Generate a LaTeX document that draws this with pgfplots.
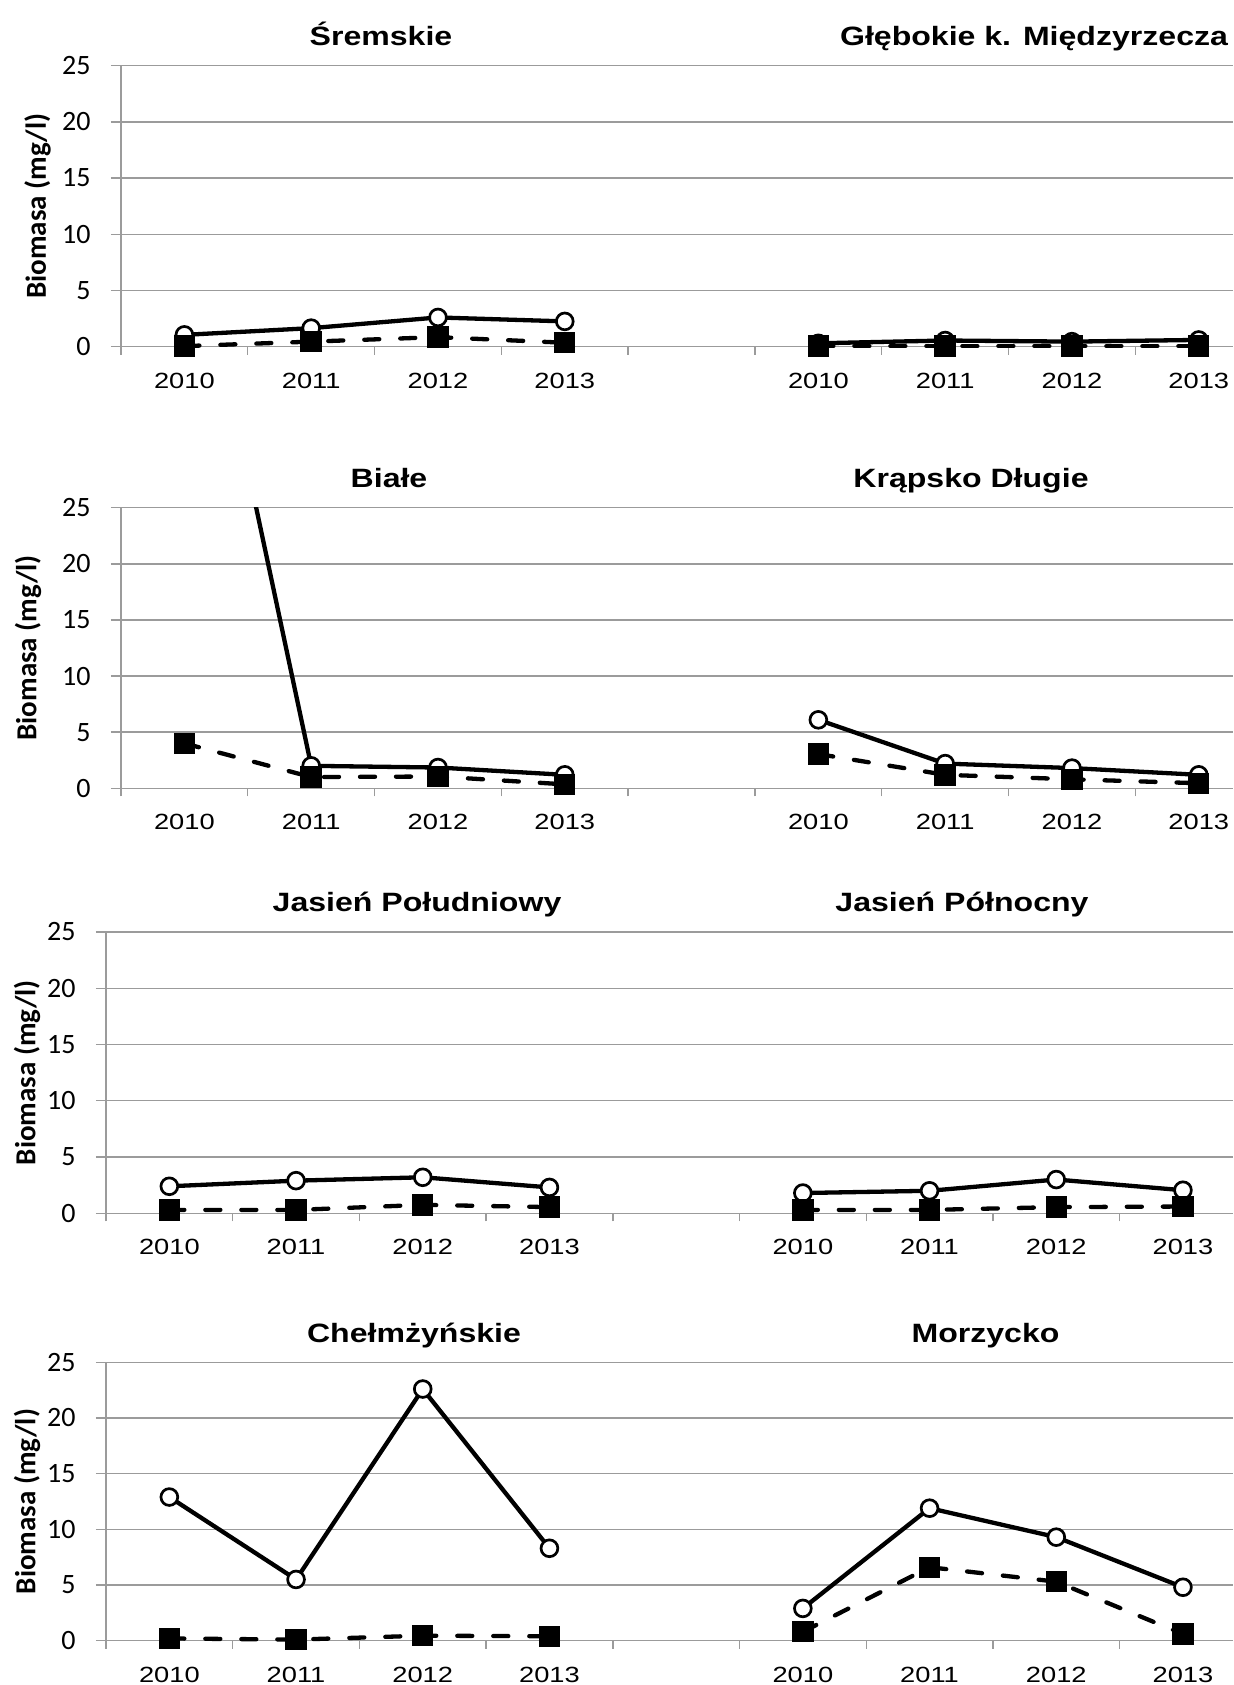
\documentclass[border=0pt]{standalone}
\usepackage{pgfplots}
\pgfplotsset{compat=1.18}
\usepackage{fontspec}
\setmainfont{Liberation Sans}
\newfontfamily\xfont[FakeStretch=1.24]{Liberation Sans}
\newfontfamily\tfont[FakeStretch=1.21]{Liberation Sans}
\newfontfamily\yfont{Carlito}
\definecolor{gridgray}{RGB}{155,155,155}

\tikzset{ttl/.style={anchor=base, font=\tfont\bfseries\fontsize{13.25}{15}\selectfont}}

\pgfplotsset{
  rowaxis/.style={
    scale only axis,
    xmin=-0.5, ymin=0, ymax=25,
    axis lines*=left,
    axis line style={gridgray, line width=0.7pt},
    ytick={0,5,10,15,20,25},
    ymajorgrids, grid style={gridgray, line width=0.7pt},
    xtick={0,1,2,3,5,6,7,8},
    xticklabels={2010,2011,2012,2013,2010,2011,2012,2013},
    minor xtick={-0.5,0.5,1.5,2.5,3.5,4.5,5.5,6.5,7.5},
    tick align=outside,
    major tick length=5pt, minor tick length=4pt,
    major x tick style={draw=none},
    minor x tick style={gridgray, line width=0.7pt},
    major y tick style={gridgray, line width=0.7pt},
    xticklabel style={font=\xfont\fontsize{11}{13}\selectfont, anchor=base, yshift=-15.75pt},
    yticklabel style={font=\yfont\fontsize{14}{16}\selectfont, anchor=east, inner sep=0pt, xshift=-10pt},
    /pgf/number format/assume math mode=true,
    ylabel={Biomasa (mg/l)},
    clip=false,
  },
  ylab/.style={ylabel style={font=\yfont\bfseries\fontsize{14.5}{17}\selectfont, at={(rel axis cs:#1,0.5)}, anchor=center}},
  toprows/.style={width=556pt, xmax=8.27},
  botrows/.style={width=563.5pt, xmax=8.395},
  circ/.style={black, line width=2.15pt, mark=*, mark size=4.2pt,
    mark options={fill=white, draw=black, line width=1.35pt, solid}},
  sq/.style={black, line width=2.15pt, line cap=round, dash pattern=on 7.5pt off 10.5pt, mark=square*, mark size=5.1pt,
    mark options={fill=black, draw=black, solid, line width=0.5pt, line cap=butt}},
}

\begin{document}
\begin{tikzpicture}
\useasboundingbox (0,0) rectangle (616.5pt,842.5pt);

% Row 1
\begin{axis}[rowaxis, toprows, ylab=-0.0751, height=140.5pt, at={(60.5pt,669.15pt)}, anchor=south west]
\addplot[circ] coordinates {(0,1.05) (1,1.65) (2,2.6) (3,2.25)};
\addplot[circ] coordinates {(5,0.3) (6,0.55) (7,0.45) (8,0.6)};
\addplot[sq] coordinates {(0,0.05) (1,0.45) (2,0.85) (3,0.35)};
\addplot[sq] coordinates {(5,0.05) (6,0.05) (7,0.05) (8,0.05)};
\end{axis}
\node[ttl] at (190.5pt,819.65pt) {Śremskie};
\node[ttl] at (517pt,819.65pt) {Głębokie k. Międzyrzecza};

% Row 2
\begin{axis}[rowaxis, toprows, ylab=-0.0836, height=140.3pt, at={(60.5pt,448.35pt)}, anchor=south west]
\begin{scope}
\clip (rel axis cs:0,0) rectangle (rel axis cs:1,1);
\addplot[circ, mark indices={2,3,4}] coordinates {(0,55) (1,2.0) (2,1.85) (3,1.2)};
\end{scope}
\addplot[circ] coordinates {(5,6.1) (6,2.2) (7,1.8) (8,1.2)};
\addplot[sq] coordinates {(0,4.0) (1,1.0) (2,1.05) (3,0.35)};
\addplot[sq] coordinates {(5,3.05) (6,1.2) (7,0.8) (8,0.45)};
\end{axis}
\node[ttl] at (194.5pt,598.65pt) {Białe};
\node[ttl] at (485.5pt,598.65pt) {Krąpsko Długie};

% Row 3
\begin{axis}[rowaxis, botrows, ylab=-0.0701, height=140.65pt, at={(53pt,235.85pt)}, anchor=south west]
\addplot[circ] coordinates {(0,2.4) (1,2.9) (2,3.2) (3,2.3)};
\addplot[circ] coordinates {(5,1.8) (6,2.0) (7,3.0) (8,2.05)};
\addplot[sq] coordinates {(0,0.3) (1,0.3) (2,0.75) (3,0.55)};
\addplot[sq] coordinates {(5,0.3) (6,0.3) (7,0.55) (8,0.6)};
\end{axis}
\node[ttl] at (208.5pt,386.5pt) {Jasień Południowy};
\node[ttl] at (481pt,386.5pt) {Jasień Północny};

% Row 4
\begin{axis}[rowaxis, botrows, ylab=-0.0701, height=139.2pt, at={(53pt,22.15pt)}, anchor=south west]
\addplot[circ] coordinates {(0,12.9) (1,5.5) (2,22.6) (3,8.3)};
\addplot[circ] coordinates {(5,2.9) (6,11.9) (7,9.3) (8,4.8)};
\addplot[sq] coordinates {(0,0.2) (1,0.1) (2,0.45) (3,0.4)};
\addplot[sq] coordinates {(5,0.8) (6,6.6) (7,5.3) (8,0.6)};
\end{axis}
\node[ttl] at (207pt,171.35pt) {Chełmżyńskie};
\node[ttl] at (492.75pt,171.35pt) {Morzycko};
\end{tikzpicture}
\end{document}
